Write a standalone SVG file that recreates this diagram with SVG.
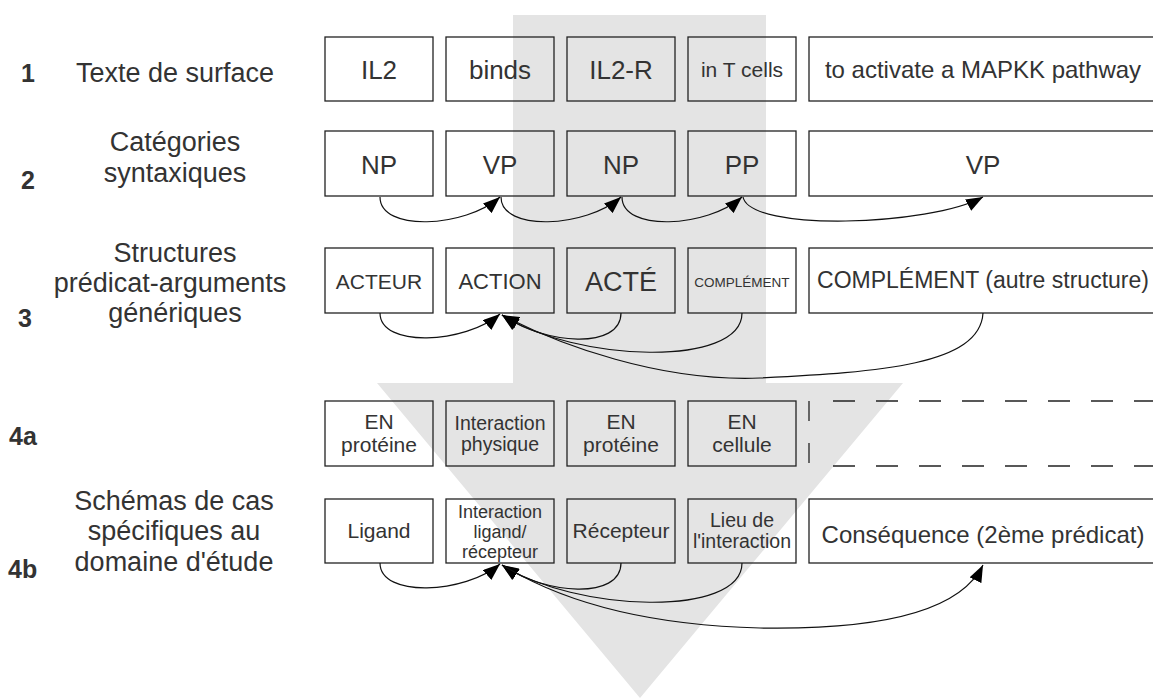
<svg xmlns="http://www.w3.org/2000/svg" width="1153" height="698" viewBox="0 0 1153 698">
<style>
text{font-family:"Liberation Sans",Arial,sans-serif;fill:#333;text-anchor:middle}
.lbl{font-size:27px}
.num{font-size:25px;font-weight:bold;text-anchor:start}
.box{fill:none;stroke:#222;stroke-width:1.3}
.dash{fill:none;stroke:#222;stroke-width:1.3}
.con{fill:none;stroke:#111;stroke-width:1.2;marker-end:url(#ah)}
</style>
<defs>
<marker id="ah" viewBox="0 0 17 13" refX="17" refY="6.5" markerWidth="17" markerHeight="13" markerUnits="userSpaceOnUse" orient="auto">
<path d="M0,0 L17,6.5 L0,13 Z" fill="#000"/>
</marker>
</defs>
<rect width="1153" height="698" fill="#fff"/>
<path id="bigarrow" d="M513,15 H766 V383 H903 L640,698 L377,383 H513 Z" fill="#e4e4e4"/>

<g id="labels">
<text class="num" x="21" y="82">1</text>
<text class="lbl" x="175" y="82">Texte de surface</text>
<text class="num" x="21" y="189">2</text>
<text class="lbl" x="175" y="151">Catégories</text>
<text class="lbl" x="175" y="182">syntaxiques</text>
<text class="num" x="18" y="327">3</text>
<text class="lbl" x="175" y="262">Structures</text>
<text class="lbl" x="170" y="292">prédicat-arguments</text>
<text class="lbl" x="175" y="322">génériques</text>
<text class="num" x="9" y="445">4a</text>
<text class="lbl" x="174" y="510">Schémas de cas</text>
<text class="lbl" x="174" y="540">spécifiques au</text>
<text class="lbl" x="174" y="571">domaine d'étude</text>
<text class="num" x="8" y="578">4b</text>
</g>

<g id="row1">
<g id="n-il2"><rect class="box" x="325" y="37" width="108" height="64"/><text x="379" y="79" font-size="26">IL2</text></g>
<g id="n-binds"><rect class="box" x="446" y="37" width="108" height="64"/><text x="500" y="79" font-size="26">binds</text></g>
<g id="n-il2r"><rect class="box" x="567" y="37" width="108" height="64"/><text x="621" y="79" font-size="26">IL2-R</text></g>
<g id="n-tcells"><rect class="box" x="688" y="37" width="108" height="64"/><text x="742" y="77" font-size="21">in T cells</text></g>
<g id="n-activate"><rect class="box" x="809" y="37" width="350" height="64"/><text x="983" y="78" font-size="24">to activate a MAPKK pathway</text></g>
</g>

<g id="row2">
<g id="n-np1"><rect class="box" x="325" y="131" width="108" height="65"/><text x="379" y="174" font-size="26">NP</text></g>
<g id="n-vp1"><rect class="box" x="446" y="131" width="108" height="65"/><text x="500" y="174" font-size="26">VP</text></g>
<g id="n-np2"><rect class="box" x="567" y="131" width="108" height="65"/><text x="621" y="174" font-size="26">NP</text></g>
<g id="n-pp"><rect class="box" x="688" y="131" width="108" height="65"/><text x="742" y="174" font-size="26">PP</text></g>
<g id="n-vp2"><rect class="box" x="809" y="131" width="350" height="65"/><text x="983" y="174" font-size="26">VP</text></g>
</g>

<g id="row3">
<g id="n-acteur"><rect class="box" x="325" y="248" width="108" height="65"/><text x="379" y="289" font-size="21">ACTEUR</text></g>
<g id="n-action"><rect class="box" x="446" y="248" width="108" height="65"/><text x="500" y="289" font-size="22">ACTION</text></g>
<g id="n-acte"><rect class="box" x="567" y="248" width="108" height="65"/><text x="621" y="291" font-size="27">ACTÉ</text></g>
<g id="n-compl"><rect class="box" x="688" y="248" width="108" height="65"/><text x="742" y="287" font-size="13.5">COMPLÉMENT</text></g>
<g id="n-compl2"><rect class="box" x="809" y="248" width="350" height="65"/><text x="983" y="288" font-size="23">COMPLÉMENT (autre structure)</text></g>
</g>

<g id="row4a">
<g id="n-enprot1"><rect class="box" x="325" y="401" width="108" height="65"/><text x="379" y="429" font-size="21">EN</text><text x="379" y="452" font-size="21">protéine</text></g>
<g id="n-interphys"><rect class="box" x="446" y="401" width="108" height="65"/><text x="500" y="430" font-size="19.5">Interaction</text><text x="500" y="451" font-size="19.5">physique</text></g>
<g id="n-enprot2"><rect class="box" x="567" y="401" width="108" height="65"/><text x="621" y="429" font-size="21">EN</text><text x="621" y="452" font-size="21">protéine</text></g>
<g id="n-encell"><rect class="box" x="688" y="401" width="108" height="65"/><text x="742" y="429" font-size="21">EN</text><text x="742" y="452" font-size="21">cellule</text></g>
<g id="n-empty">
<path class="dash" d="M809,401 V466" stroke-dasharray="20 22"/>
<path class="dash" d="M833,401 H1153" stroke-dasharray="22 21"/>
<path class="dash" d="M833,466 H1153" stroke-dasharray="22 21"/>
</g>
</g>

<g id="row4b">
<g id="n-ligand"><rect class="box" x="325" y="499" width="108" height="64"/><text x="379" y="538" font-size="21">Ligand</text></g>
<g id="n-interlig"><rect class="box" x="446" y="499" width="108" height="64"/><text x="500" y="518" font-size="18">Interaction</text><text x="500" y="538" font-size="18">ligand/</text><text x="500" y="558" font-size="18">récepteur</text></g>
<g id="n-recep"><rect class="box" x="567" y="499" width="108" height="64"/><text x="621" y="538" font-size="21">Récepteur</text></g>
<g id="n-lieu"><rect class="box" x="688" y="499" width="108" height="64"/><text x="742" y="527" font-size="19.5">Lieu de</text><text x="742" y="548" font-size="19.5">l'interaction</text></g>
<g id="n-conseq"><rect class="box" x="809" y="499" width="350" height="64"/><text x="983" y="543" font-size="24">Conséquence (2ème prédicat)</text></g>
</g>

<g id="connectors">
<path class="con" d="M380,197 C380,232 465,228 500,197"/>
<path class="con" d="M501,197 C501,232 586,228 621,197"/>
<path class="con" d="M622,197 C622,232 707,228 742,197"/>
<path class="con" d="M743,197 C750,232 930,226 983,197"/>

<path class="con" d="M380,313 C380,348 465,344 500,314"/>
<path class="con" d="M621,313 C621,350 545,345 502,315"/>
<path class="con" d="M742,313 C742,368 575,362 502,315"/>
<path class="con" d="M983,313 C980,365 880,372 760,378 C660,382 560,345 502,315"/>

<path class="con" d="M380,563 C380,598 465,594 500,564"/>
<path class="con" d="M621,563 C621,600 545,595 502,565"/>
<path class="con" d="M742,563 C742,618 575,612 502,565"/>
<path class="con" d="M504,566 C560,600 640,625 760,628 C880,630 960,612 983,565"/>
</g>
</svg>
